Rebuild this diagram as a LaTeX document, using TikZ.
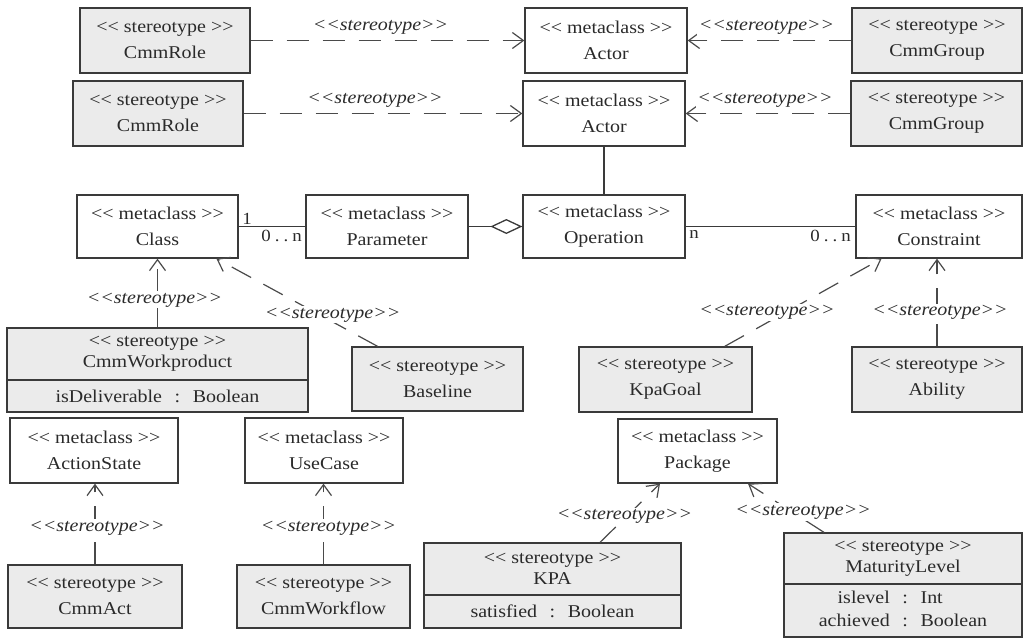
\documentclass[tikz,border=0pt]{standalone}
\usepackage{fontspec}
\setmainfont{Liberation Serif}[FakeStretch=1.11]
\usetikzlibrary{arrows.meta}
\definecolor{boxc}{HTML}{3A3A3A}
\definecolor{stfill}{HTML}{EBEBEB}
\definecolor{linec}{HTML}{4A4A4A}
\definecolor{txtc}{HTML}{2A2A2A}
\newcommand\lsg{<\kern0pt<}
\newcommand\rsg{>\kern0pt>}
\newcommand\stt{\lsg\ stereotype \rsg}
\newcommand\mtt{\lsg\ metaclass \rsg}
\newcommand\deplabel{\lsg stereotype\rsg}
\newcommand\zn{0\hspace{4pt}.\hspace{4pt}.\hspace{4pt}n}
\newcommand\sep{\hspace{0.7em}:\hspace{0.7em}}
\begin{document}
\begin{tikzpicture}[x=1pt,y=-1pt,
  every node/.style={text=txtc},
  meta/.style={draw=boxc, line width=1.3pt, fill=white, align=center, inner sep=0pt, font=\fontsize{18}{26}\selectfont},
  ster/.style={meta, fill=stfill},
  hdr/.style={ster, font=\fontsize{18}{21}\selectfont},
  dep/.style={draw=linec, line width=1.2pt, dash pattern=on 22pt off 14pt, -{Straight Barb[length=11pt,width=16pt]}},
  lbl/.style={font=\fontsize{18}{20}\selectfont\itshape, fill=white, inner sep=1.5pt},
  assoc/.style={draw=boxc, line width=1.3pt},
  mult/.style={font=\fontsize{17}{20}\selectfont, inner sep=1pt}
]
\useasboundingbox[fill=white] (0,0) rectangle (1026,638);

% top rows
\node[ster, minimum width=170, minimum height=65] (role1) at (165,40.5) {\stt\\CmmRole};
\node[meta, minimum width=162, minimum height=65] (actor1) at (606,40.5) {\mtt\\Actor};
\node[ster, minimum width=170, minimum height=65] (group1) at (937,40.5) {\stt\\CmmGroup};

\node[ster, minimum width=170, minimum height=65] (role2) at (158,113.5) {\stt\\CmmRole};
\node[meta, minimum width=162, minimum height=65] (actor2) at (604,113.5) {\mtt\\Actor};
\node[ster, minimum width=171, minimum height=65] (group2) at (936.5,113.5) {\stt\\CmmGroup};

% metaclass row
\node[meta, minimum width=161, minimum height=63] (class) at (157.5,226.5) {\mtt\\Class};
\node[meta, minimum width=162, minimum height=63] (param) at (387,226.5) {\mtt\\Parameter};
\node[meta, minimum width=162, minimum height=63] (oper) at (604,226.5) {\mtt\\Operation};
\node[meta, minimum width=166, minimum height=63] (constr) at (939,226.5) {\mtt\\Constraint};

% stereotype row
\node[ster, minimum width=301, minimum height=32] (wpa) at (157.5,396) {isDeliverable\sep Boolean};
\node[hdr, minimum width=301, minimum height=52] (wp) at (157.5,354) {\stt\\CmmWorkproduct};
\node[ster, minimum width=171, minimum height=64] (base) at (437.5,379) {\stt\\Baseline};
\node[ster, minimum width=173, minimum height=65] (goal) at (665.5,379.5) {\stt\\KpaGoal};
\node[ster, minimum width=170, minimum height=65] (ability) at (937,379.5) {\stt\\Ability};

% lower rows
\node[meta, minimum width=168, minimum height=65] (astate) at (94,450.5) {\mtt\\ActionState};
\node[meta, minimum width=158, minimum height=65] (ucase) at (324,450.5) {\mtt\\UseCase};
\node[meta, minimum width=159, minimum height=64] (pkg) at (697.5,451) {\mtt\\Package};

\node[ster, minimum width=174, minimum height=63] (act) at (95,596.5) {\stt\\CmmAct};
\node[ster, minimum width=173, minimum height=63] (wflow) at (323.5,596.5) {\stt\\CmmWorkflow};

\node[ster, minimum width=257, minimum height=33] (kpaa) at (552.5,611.5) {satisfied\sep Boolean};
\node[hdr, minimum width=257, minimum height=52] (kpa) at (552.5,569) {\stt\\KPA};

\node[ster, minimum width=238, minimum height=53] (mla) at (903,610.5)
  {\fontsize{18}{23}\selectfont\begin{tabular}{@{}r@{\sep}l@{}}islevel & Int\\ achieved & Boolean\end{tabular}};
\node[hdr, minimum width=238, minimum height=51] (ml) at (903,558.5) {\stt\\MaturityLevel};

% dependencies, top rows
\draw[dep] (role1) -- (actor1) node[lbl, midway, above=4pt, xshift=-7pt] {\deplabel};
\draw[dep] (group1) -- (actor1) node[lbl, midway, above=4pt, xshift=-3pt] {\deplabel};
\draw[dep] (role2) -- (actor2) node[lbl, midway, above=4pt, xshift=-8pt] {\deplabel};
\draw[dep] (group2) -- (actor2) node[lbl, midway, above=4pt, xshift=-3pt] {\deplabel};

% associations
\draw[assoc] (actor2) -- (oper);
\draw[assoc] (class) -- (param)
  node[mult, pos=0, anchor=south west, xshift=2pt] {1}
  node[mult, pos=1, anchor=north east, xshift=-2pt, yshift=-2pt] {\zn};
\draw[assoc, -{Diamond[open, length=32pt, width=15pt]}] (param) -- (oper);
\draw[assoc] (oper) -- (constr)
  node[mult, pos=0, anchor=north west, xshift=2pt, yshift=-2pt] {n}
  node[mult, pos=1, anchor=north east, xshift=-3pt, yshift=-2pt] {\zn};

% dependencies, middle
\draw[dep] (wp) -- (class) node[lbl, pos=0.4, xshift=-3pt] {\deplabel};
\draw[dep] (base) -- (class) node[lbl, pos=0.36, xshift=13pt] {\deplabel};
\draw[dep] (goal) -- (constr) node[lbl, pos=0.39, xshift=-19pt] {\deplabel};
\draw[dep] (ability.north) -- (ability.north |- constr.south) node[lbl, pos=0.39, xshift=3pt] {\deplabel};

% dependencies, bottom
\draw[dep] (act.north) -- (act.north |- astate.south) node[lbl, pos=0.45, xshift=2pt] {\deplabel};
\draw[dep] (wflow.north) -- (wflow.north |- ucase.south) node[lbl, pos=0.45, xshift=5pt] {\deplabel};
\draw[dep] ([xshift=47.5pt]kpa.north) -- ([xshift=-37.5pt]pkg.south) node[lbl, pos=0.44, xshift=-2pt] {\deplabel};
\draw[dep] ([xshift=-79pt]ml.north) -- ([xshift=50.5pt]pkg.south) node[lbl, pos=0.42, xshift=11pt] {\deplabel};
\end{tikzpicture}
\end{document}
